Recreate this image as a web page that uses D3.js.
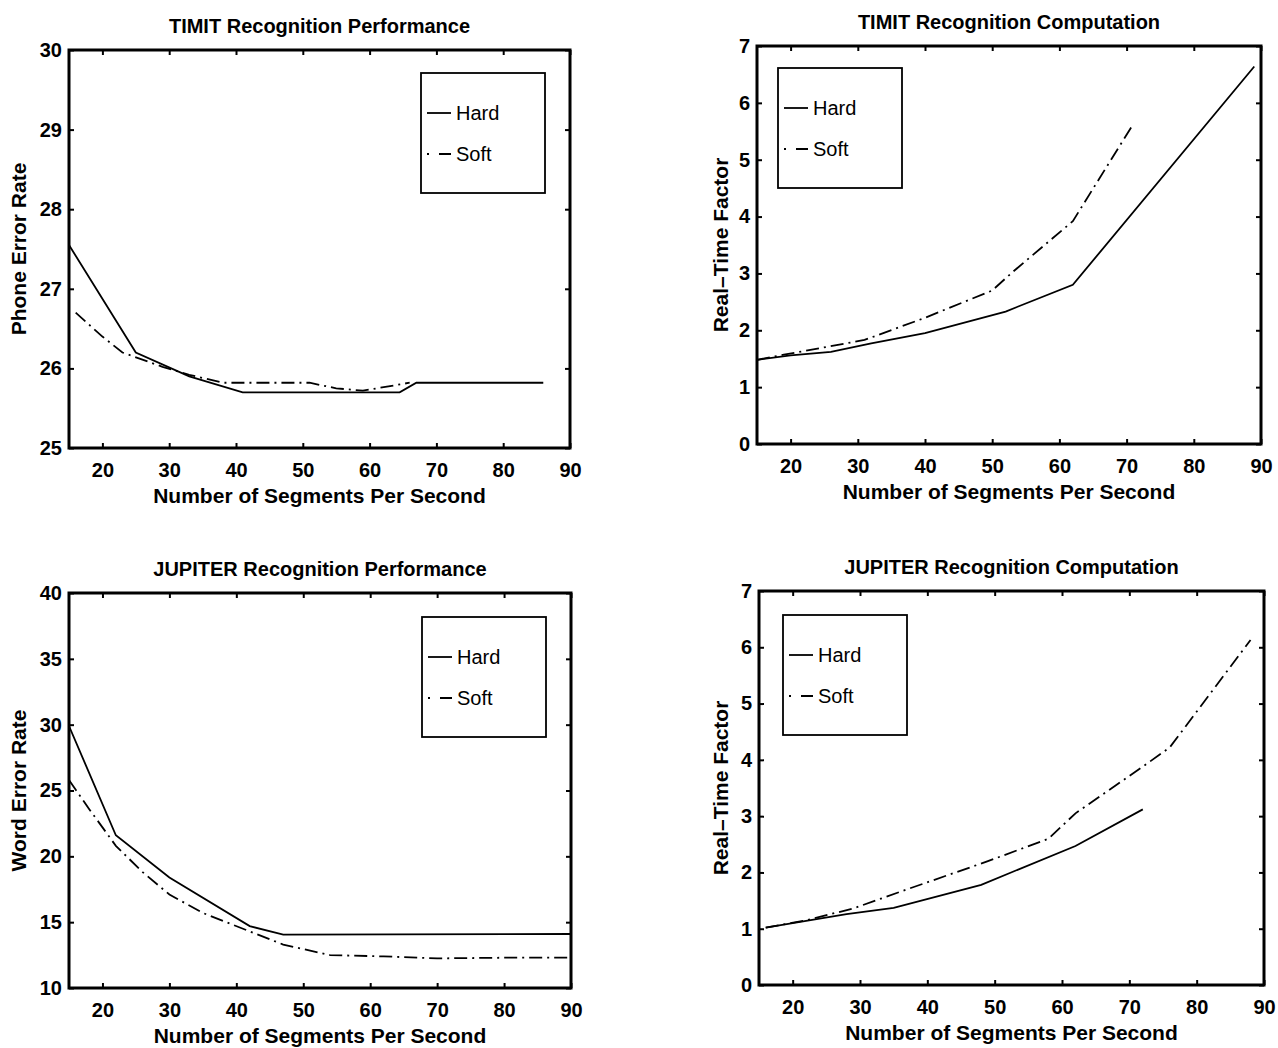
<!DOCTYPE html>
<html>
<head>
<meta charset="utf-8">
<script src="https://d3js.org/d3.v7.min.js"></script>
<style>
  body { margin: 0; background: #fff; }
  text { font-family: "Liberation Sans", Arial, Helvetica, sans-serif; fill: #000; }
</style>
</head>
<body>
<div id="graph"></div>
<script>

// Values: [segments per second, value]
var xTicks = [20, 30, 40, 50, 60, 70, 80, 90];
var seriesNames = ['Hard', 'Soft'];

var timitPerfTicks = [25, 26, 27, 28, 29, 30];
var jupPerfTicks = [10, 15, 20, 25, 30, 35, 40];
var rtfTicks = [0, 1, 2, 3, 4, 5, 6, 7];

var timitPerfHard = [[15, 27.55], [25, 26.2], [33, 25.9], [41, 25.7], [64.5, 25.7], [67, 25.82], [86, 25.82]];
var timitPerfSoft = [[16, 26.7], [20, 26.4], [23, 26.2], [29, 26.02], [33, 25.92], [38, 25.82], [51, 25.82], [55, 25.75], [59, 25.72], [66, 25.82]];

var timitCompHard = [[15, 1.48], [20, 1.56], [26, 1.62], [32, 1.77], [40, 1.95], [52, 2.33], [62, 2.8], [89, 6.64]];
var timitCompSoft = [[15, 1.48], [19, 1.57], [31, 1.83], [40, 2.22], [50, 2.7], [53, 3.02], [62, 3.92], [71, 5.63]];

var jupPerfHard = [[15, 29.9], [22, 21.6], [30, 18.4], [42, 14.7], [47, 14.05], [90, 14.1]];
var jupPerfSoft = [[15, 25.8], [18, 23.6], [22, 20.8], [26, 18.8], [30, 17.1], [35, 15.7], [42, 14.3], [47, 13.3], [54, 12.5], [62, 12.4], [70, 12.25], [80, 12.3], [90, 12.3]];

var jupCompHard = [[16, 1.02], [20, 1.1], [28, 1.26], [35, 1.37], [48, 1.78], [62, 2.47], [72, 3.12]];
var jupCompSoft = [[16, 1.02], [22, 1.15], [29, 1.36], [37, 1.7], [49, 2.2], [58, 2.6], [62, 3.05], [72, 3.88], [76, 4.22], [88, 6.13]];

// Panel layout (box edges in pixels)
var panels = [
  {title: 'TIMIT Recognition Performance', ylabel: 'Phone Error Rate', yDomain: [25, 30], yTicks: timitPerfTicks,
   hard: timitPerfHard, soft: timitPerfSoft, left: 69, right: 570, top: 50, bottom: 448, legX: 421, legY: 73, ylabX: 18},
  {title: 'TIMIT Recognition Computation', ylabel: 'Real\u2013Time Factor', yDomain: [0, 7], yTicks: rtfTicks,
   hard: timitCompHard, soft: timitCompSoft, left: 757, right: 1261, top: 46, bottom: 444, legX: 778, legY: 68, ylabX: 720},
  {title: 'JUPITER Recognition Performance', ylabel: 'Word Error Rate', yDomain: [10, 40], yTicks: jupPerfTicks,
   hard: jupPerfHard, soft: jupPerfSoft, left: 69, right: 571, top: 593, bottom: 988, legX: 422, legY: 617, ylabX: 18},
  {title: 'JUPITER Recognition Computation', ylabel: 'Real\u2013Time Factor', yDomain: [0, 7], yTicks: rtfTicks,
   hard: jupCompHard, soft: jupCompSoft, left: 759, right: 1264, top: 591, bottom: 985, legX: 783, legY: 615, ylabX: 720}
];

var dashDot = '13,5,2,5';
var fmt = d3.format('d');

var svg = d3.select('#graph')
  .append('svg')
  .attr('width', 1278)
  .attr('height', 1048);

function styleAxis(sel) {
  sel.attr('font-family', null).attr('font-size', 20).attr('font-weight', 'bold')
  sel.select('.domain').remove()
  sel.selectAll('.tick line').attr('stroke', '#000').attr('stroke-width', 2)
}

function drawPanel(p) {
  var x = d3.scaleLinear().domain([15, 90]).range([p.left, p.right]);
  var y = d3.scaleLinear().domain(p.yDomain).range([p.bottom, p.top]);
  var g = svg.append('g');

  // ticks point inward on all four sides
  g.append('g').attr('transform', `translate(0, ${p.bottom})`)
    .call(d3.axisBottom(x).tickValues(xTicks).tickFormat(fmt).tickSizeInner(-5).tickSizeOuter(0).tickPadding(15))
    .call(styleAxis);
  g.append('g').attr('transform', `translate(0, ${p.top})`)
    .call(d3.axisTop(x).tickValues(xTicks).tickSizeInner(-5).tickSizeOuter(0).tickFormat(''))
    .call(styleAxis);
  g.append('g').attr('transform', `translate(${p.left}, 0)`)
    .call(d3.axisLeft(y).tickValues(p.yTicks).tickFormat(fmt).tickSizeInner(-5).tickSizeOuter(0).tickPadding(7))
    .call(styleAxis);
  g.append('g').attr('transform', `translate(${p.right}, 0)`)
    .call(d3.axisRight(y).tickValues(p.yTicks).tickSizeInner(-5).tickSizeOuter(0).tickFormat(''))
    .call(styleAxis);

  // frame
  g.append('rect')
    .attr('x', p.left).attr('y', p.top)
    .attr('width', p.right - p.left).attr('height', p.bottom - p.top)
    .attr('fill', 'none').attr('stroke', '#000').attr('stroke-width', 3);

  var line = d3.line().x(function(d) { return x(d[0]) }).y(function(d) { return y(d[1]) });

  g.append('path').datum(p.hard)
    .attr('d', line).attr('fill', 'none').attr('stroke', '#000').attr('stroke-width', 1.8);
  g.append('path').datum(p.soft)
    .attr('d', line).attr('fill', 'none').attr('stroke', '#000').attr('stroke-width', 1.8)
    .attr('stroke-dasharray', dashDot);

  // title and axis labels
  g.append('text')
    .attr('x', (p.left + p.right) / 2).attr('y', p.top - 17)
    .attr('text-anchor', 'middle').attr('font-size', 20).attr('font-weight', 'bold')
    .text(p.title);
  g.append('text')
    .attr('x', (p.left + p.right) / 2).attr('y', p.bottom + 55)
    .attr('text-anchor', 'middle').attr('font-size', 21).attr('font-weight', 'bold')
    .text('Number of Segments Per Second');
  var cy = (p.top + p.bottom) / 2;
  g.append('text')
    .attr('transform', `translate(${p.ylabX + 7.5}, ${cy}) rotate(-90)`)
    .attr('text-anchor', 'middle').attr('font-size', 21).attr('font-weight', 'bold')
    .text(p.ylabel);

  // legend
  var leg = g.append('g').attr('transform', `translate(${p.legX}, ${p.legY})`);
  leg.append('rect').attr('width', 124).attr('height', 120)
    .attr('fill', '#fff').attr('stroke', '#000').attr('stroke-width', 1.8);
  seriesNames.forEach(function(name, i) {
    var ly = 40 + i * 41;
    leg.append('line')
      .attr('x1', 6).attr('x2', 30).attr('y1', ly).attr('y2', ly)
      .attr('stroke', '#000').attr('stroke-width', 1.8)
      .attr('stroke-dasharray', i === 0 ? null : '2,10,13');
    leg.append('text')
      .attr('x', 35).attr('y', ly).attr('dy', '0.35em')
      .attr('font-size', 20)
      .text(name);
  });
}

panels.forEach(drawPanel);

</script>
</body>
</html>
